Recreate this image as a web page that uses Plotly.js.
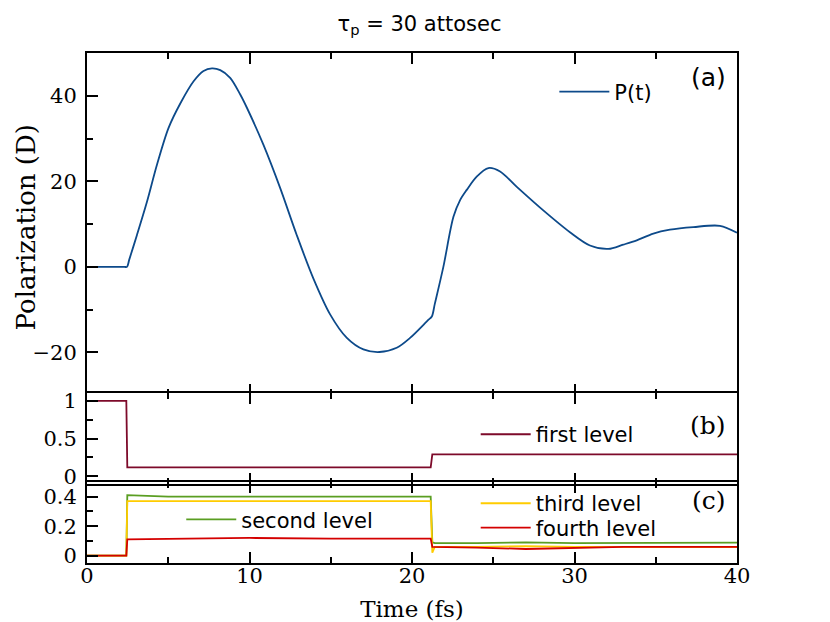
<!DOCTYPE html>
<html>
<head>
<meta charset="utf-8">
<script src="https://cdn.plot.ly/plotly-3.0.1.min.js"></script>
<style>
  body { margin: 0; background: #fff; }
  #plot { width: 830px; height: 622px; }
</style>
</head>
<body>
<div id="plot"></div>
<script>
// P(t)
const timeP = [0, 2.3, 2.46, 2.6, 3.07, 3.69, 4.30, 5.02, 5.74, 6.56, 7.17, 7.69, 8.2, 8.81, 9.43, 9.84,
  10.86, 11.89, 12.91, 13.94, 14.96, 15.99, 17.01, 18.0, 19.06, 19.88, 21.0, 21.22, 21.4, 21.93, 22.55,
  22.96, 23.37, 23.98, 24.7, 25.42, 26.45, 28.08, 29.72, 30.95, 32.08, 33.0, 33.83, 34.85,
  35.87, 37.31, 38.95, 40];
const polar = [0, 0, 0, 1.7, 7.4, 15.2, 23.8, 32.5, 38.2, 43.4, 45.8, 46.4, 46.0, 44.2, 40.3, 37.2,
  28.5, 18.4, 7.4, -2.8, -11.1, -16.6, -19.3, -19.9, -18.9, -16.6, -12.4, -11.6, -8.7, 0, 11.7,
  15.6, 18.0, 21.1, 23.1, 22.3, 18.7, 13.2, 8.1, 5.0, 4.2, 5.2, 6.2, 7.8,
  8.7, 9.3, 9.6, 8.0];

// level populations, panels (b) and (c)
const timeL = [0, 2.42, 2.48, 5, 10, 15, 21.15, 21.25, 21.4, 24, 27, 30, 33, 36, 40];
const first  = [1, 1, 0.12, 0.12, 0.12, 0.12, 0.12, 0.29, 0.29, 0.29, 0.29, 0.285, 0.29, 0.29, 0.29];
const second = [0, 0, 0.41, 0.40, 0.40, 0.40, 0.40, 0.09, 0.085, 0.085, 0.09, 0.085, 0.085, 0.088, 0.088];
const third  = [0, 0, 0.37, 0.37, 0.37, 0.37, 0.37, 0.02, 0.06, 0.06, 0.065, 0.06, 0.06, 0.058, 0.058];
const fourth = [0, 0, 0.11, 0.115, 0.12, 0.115, 0.115, 0.06, 0.06, 0.055, 0.045, 0.055, 0.06, 0.06, 0.06];

const serif = "DejaVu Serif";
const sans = "DejaVu Sans";

const data = [
  {x: timeP, y: polar, name: "P(t)", mode: "lines", xaxis: "x", yaxis: "y",
   line: {color: "#0d4a8a", width: 1.8, shape: "spline", smoothing: 0.9}, legend: "legend"},
  {x: timeL, y: first, name: "first level", mode: "lines", xaxis: "x2", yaxis: "y2",
   line: {color: "#7d0a2a", width: 1.8}, legend: "legend2"},
  {x: timeL, y: second, name: "second level", mode: "lines", xaxis: "x3", yaxis: "y3",
   line: {color: "#5a9e22", width: 1.8}, legend: "legend3"},
  {x: timeL, y: third, name: "third level", mode: "lines", xaxis: "x3", yaxis: "y3",
   line: {color: "#ffcc00", width: 1.8}, legend: "legend4"},
  {x: timeL, y: fourth, name: "fourth level", mode: "lines", xaxis: "x3", yaxis: "y3",
   line: {color: "#d40000", width: 1.8}, legend: "legend5"}
];

function xax(anchor, labels) {
  return {
    range: [0, 40], anchor: anchor, domain: [0, 1], dtick: 10,
    showline: true, linecolor: "#000", linewidth: 2, mirror: "allticks",
    ticks: "inside", ticklen: 11, tickwidth: 1.6, tickcolor: "#000",
    minor: {dtick: 5, ticks: "inside", ticklen: 6, tickwidth: 1.6, tickcolor: "#000"},
    showgrid: false, zeroline: false, showticklabels: labels, ticklabelstandoff: -7,
    tickfont: {family: serif, size: 21, color: "#000"}
  };
}
function yax(anchor, dom, rng, dt, mdt) {
  return {
    range: rng, anchor: anchor, domain: dom, dtick: dt,
    showline: true, linecolor: "#000", linewidth: 2, mirror: true,
    ticks: "inside", ticklen: 11, tickwidth: 1.6, tickcolor: "#000",
    minor: {dtick: mdt, ticks: "inside", ticklen: 6, tickwidth: 1.6, tickcolor: "#000"},
    showgrid: false, zeroline: false, ticklabelstandoff: 4,
    tickfont: {family: serif, size: 21, color: "#000"}
  };
}

const leg = {bgcolor: "rgba(0,0,0,0)", borderwidth: 0, xanchor: "left", yanchor: "middle",
  font: {family: sans, size: 21, color: "#000"}, tracegroupgap: 0, itemwidth: 50};

const layout = {
  width: 830, height: 622,
  margin: {l: 87, r: 93, t: 53, b: 59},
  paper_bgcolor: "#fff", plot_bgcolor: "#fff",
  title: {text: "τ<sub>p</sub> = 30 attosec", x: 0.5054, xanchor: "center", y: 0.962, yanchor: "middle",
    font: {family: sans, size: 21, color: "#000"}},
  xaxis: xax("y", false),
  xaxis2: xax("y2", false),
  xaxis3: Object.assign(xax("y3", true),
    {title: {text: "Time (fs)", font: {family: serif, size: 23, color: "#000"}, standoff: 14}}),
  yaxis: yax("x", [0.329, 1], [-30, 50], 20, 10),
  yaxis2: yax("x2", [0.155, 0.3329], [-0.1, 1.1], 0.5, 0.25),
  yaxis3: yax("x3", [0, 0.1589], [-0.05, 0.5], 0.2, 0.1),
  legend: Object.assign({}, leg, {x: 0.719, y: 0.9235}),
  legend2: Object.assign({}, leg, {x: 0.598, y: 0.2518}),
  legend3: Object.assign({}, leg, {x: 0.145, y: 0.085}),
  legend4: Object.assign({}, leg, {x: 0.598, y: 0.1165}),
  legend5: Object.assign({}, leg, {x: 0.598, y: 0.0686}),
  showlegend: true,
  annotations: [
    {text: "Polarization (D)", xref: "paper", yref: "paper", x: -0.0938, y: 0.658, textangle: -90,
     xanchor: "center", yanchor: "middle", showarrow: false, font: {family: serif, size: 26, color: "#000"}},
    {text: "(a)", xref: "x domain", yref: "y domain", x: 0.986, y: 0.929, xanchor: "right",
     yanchor: "middle", showarrow: false, font: {family: sans, size: 25, color: "#000"}},
    {text: "(b)", xref: "x2 domain", yref: "y2 domain", x: 0.986, y: 0.639, xanchor: "right",
     yanchor: "middle", showarrow: false, font: {family: serif, size: 25, color: "#000"}},
    {text: "(c)", xref: "x3 domain", yref: "y3 domain", x: 0.986, y: 0.768, xanchor: "right",
     yanchor: "middle", showarrow: false, font: {family: serif, size: 25, color: "#000"}}
  ]
};

Plotly.newPlot("plot", data, layout, {displayModeBar: false});
</script>
</body>
</html>
